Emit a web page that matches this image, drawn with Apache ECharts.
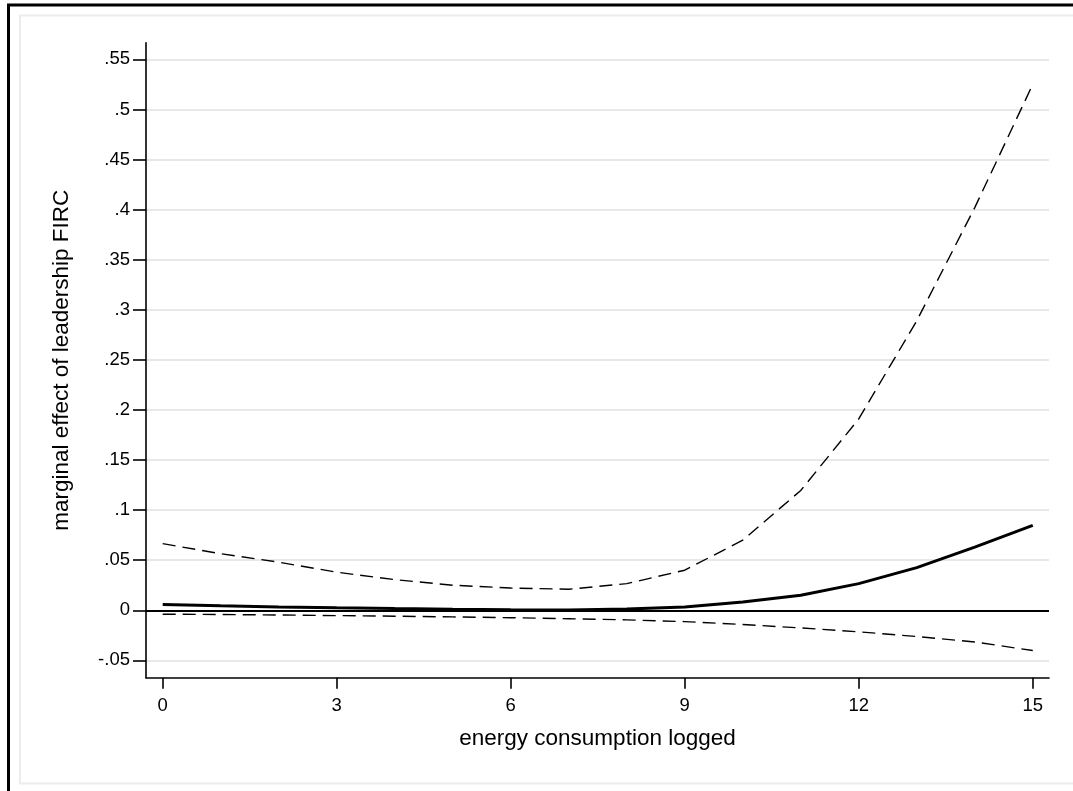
<!DOCTYPE html>
<html>
<head>
<meta charset="utf-8">
<script src="https://cdn.jsdelivr.net/npm/echarts@6/dist/echarts.min.js"></script>
<style>
  html, body { margin: 0; padding: 0; background: #fff; }
  #chart { width: 1073px; height: 791px; }
</style>
</head>
<body>
<div id="chart"></div>
<script>
// Energy consumption (logged) at which the marginal effect is evaluated
const energyLogged = [0, 1, 2, 3, 4, 5, 6, 7, 8, 9, 10, 11, 12, 13, 14, 15];
// Marginal effect of leadership FIRC
const marginalEffect = [0.0058, 0.0045, 0.0034, 0.0025, 0.0017, 0.0010, 0.0005, 0.0004,
                        0.0012, 0.0032, 0.0083, 0.0150, 0.0266, 0.0426, 0.0631, 0.0847];
// Upper and lower confidence bounds
const upperBound = [0.0665, 0.0565, 0.0480, 0.0380, 0.0306, 0.0250, 0.0222, 0.0210,
                    0.0266, 0.0400, 0.0700, 0.1196, 0.1910, 0.2890, 0.4020, 0.5250];
const lowerBound = [-0.0039, -0.0042, -0.0047, -0.0053, -0.0059, -0.0066, -0.0074, -0.0084,
                    -0.0096, -0.0113, -0.0142, -0.0176, -0.0215, -0.0262, -0.0316, -0.0402];

// Axis tick positions
const xTicks = [0, 3, 6, 9, 12, 15];
const yTicks = [-0.05, 0, 0.05, 0.1, 0.15, 0.2, 0.25, 0.3, 0.35, 0.4, 0.45, 0.5, 0.55];

const pairs = ys => energyLogged.map((x, i) => [x, ys[i]]);
const fmtY = v => {
  const s = String(Math.round(v * 100) / 100);
  return s.replace(/^0\./, '.').replace(/^-0\./, '-.');
};

const FONT = 'Liberation Sans, Arial, sans-serif';
const chart = echarts.init(document.getElementById('chart'), null, { renderer: 'canvas' });

chart.setOption({
  backgroundColor: '#ffffff',
  animation: false,
  graphic: [
    { type: 'rect', z: -10, silent: true,
      shape: { x: 8.5, y: 5, width: 1300, height: 1000 },
      style: { fill: null, stroke: '#000', lineWidth: 3 } },
    { type: 'rect', z: -10, silent: true,
      shape: { x: 20, y: 15.5, width: 1300, height: 768 },
      style: { fill: null, stroke: '#ececec', lineWidth: 2 } }
  ],
  grid: { left: 146, top: 42.7, right: 24, bottom: 113.3, containLabel: false },
  xAxis: {
    type: 'value',
    min: -0.288,
    max: 15.28,
    name: 'energy consumption logged',
    nameLocation: 'middle',
    nameGap: 50,
    nameTextStyle: { fontFamily: FONT, fontSize: 22.5, color: '#000' },
    axisLine: { show: true, onZero: false, lineStyle: { color: '#000', width: 1.6 } },
    axisTick: { show: true, length: 11, customValues: xTicks, lineStyle: { color: '#000', width: 1.6 } },
    axisLabel: { customValues: xTicks, margin: 19, fontFamily: FONT, fontSize: 18.5, color: '#000' },
    splitLine: { show: false }
  },
  yAxis: {
    type: 'value',
    min: -0.0673,
    max: 0.5666,
    name: 'marginal effect of leadership FIRC',
    nameLocation: 'middle',
    nameGap: 73,
    nameTextStyle: { fontFamily: FONT, fontSize: 22.5, color: '#000' },
    axisLine: { show: true, onZero: false, lineStyle: { color: '#000', width: 1.6 } },
    axisTick: { show: true, length: 13, customValues: yTicks, lineStyle: { color: '#000', width: 1.6 } },
    axisLabel: { customValues: yTicks, margin: 16, fontFamily: FONT, fontSize: 18.5, color: '#000',
                 formatter: fmtY },
    splitLine: { show: true, lineStyle: { color: '#e8e8e8', width: 2 } }
  },
  series: [
    {
      name: 'upper',
      type: 'line',
      data: pairs(upperBound),
      showSymbol: false,
      lineStyle: { color: '#000', width: 1.4, type: [13, 7] },
      z: 3
    },
    {
      name: 'lower',
      type: 'line',
      data: pairs(lowerBound),
      showSymbol: false,
      lineStyle: { color: '#000', width: 1.4, type: [13, 7] },
      z: 3
    },
    {
      name: 'effect',
      type: 'line',
      data: pairs(marginalEffect),
      showSymbol: false,
      lineStyle: { color: '#000', width: 3 },
      z: 4,
      markLine: {
        silent: true,
        symbol: 'none',
        label: { show: false },
        lineStyle: { color: '#000', width: 2.2, type: 'solid' },
        data: [{ yAxis: 0 }]
      }
    }
  ]
});
</script>
</body>
</html>
